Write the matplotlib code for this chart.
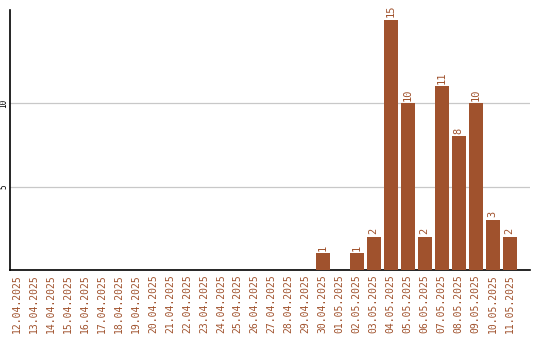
import matplotlib.pyplot as plt
import numpy as np

# daily counts, 12.04.2025 - 11.05.2025
dates = ["12.04.2025", "13.04.2025", "14.04.2025", "15.04.2025", "16.04.2025",
         "17.04.2025", "18.04.2025", "19.04.2025", "20.04.2025", "21.04.2025",
         "22.04.2025", "23.04.2025", "24.04.2025", "25.04.2025", "26.04.2025",
         "27.04.2025", "28.04.2025", "29.04.2025", "30.04.2025", "01.05.2025",
         "02.05.2025", "03.05.2025", "04.05.2025", "05.05.2025", "06.05.2025",
         "07.05.2025", "08.05.2025", "09.05.2025", "10.05.2025", "11.05.2025"]
counts = [0, 0, 0, 0, 0,
          0, 0, 0, 0, 0,
          0, 0, 0, 0, 0,
          0, 0, 0, 1, 0,
          1, 2, 15, 10, 2,
          11, 8, 10, 3, 2]

color = '#A0522D'
plt.rcParams['font.family'] = 'DejaVu Sans Mono'

fig = plt.figure(figsize=(5.4, 3.4), dpi=100)
ax = fig.add_axes([10 / 540, 70 / 340, 520 / 540, 260 / 340])

x = np.arange(len(dates))
ax.bar(x, counts, width=0.82, color=color, zorder=3)
for xi, c in zip(x, counts):
    if c > 0:
        ax.text(xi, c + 0.15, str(c), rotation=90, ha='center', va='bottom',
                fontsize=7.5, color=color)

ax.set_xlim(-0.41, 30.2)
ax.set_ylim(0, 15.57)
ax.set_xticks(x)
ax.set_xticklabels(dates, rotation=90, fontsize=7, color=color)
ax.set_yticks([5, 10])
ax.set_yticklabels(['5', '10'], rotation=90, va='center', fontsize=5.5)
ax.tick_params(axis='x', length=0, pad=3)
ax.tick_params(axis='y', length=0, pad=1)
ax.grid(axis='y', color='#c8c8c8', linewidth=0.9, zorder=0)
for s in ['top', 'right']:
    ax.spines[s].set_visible(False)
ax.spines['left'].set_linewidth(1.2)
ax.spines['bottom'].set_linewidth(1.2)

plt.savefig("out.png", dpi=100)
